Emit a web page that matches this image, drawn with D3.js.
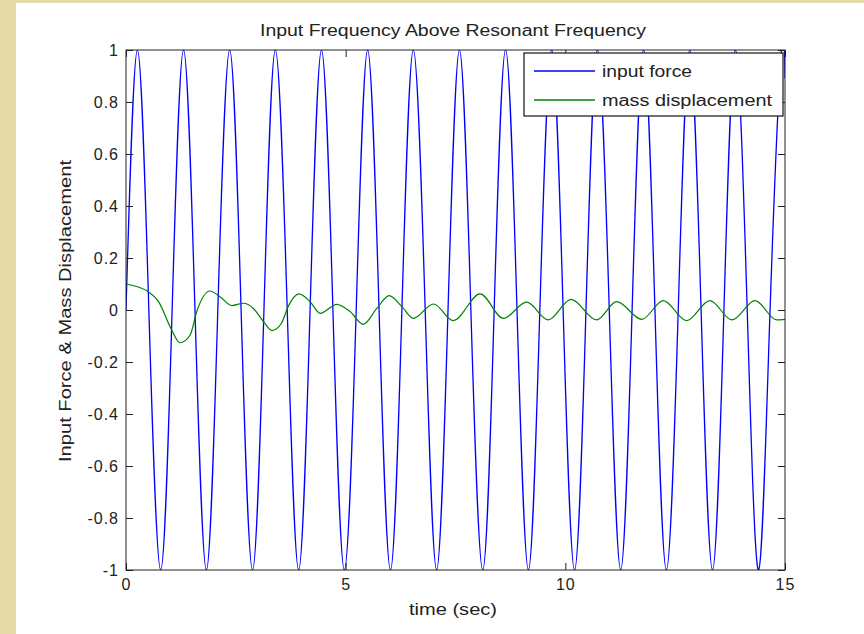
<!DOCTYPE html>
<html lang="en">
<head>
    <meta charset="UTF-8">
    <title>Input Frequency Above Resonant Frequency</title>
    <script src="https://cdn.jsdelivr.net/npm/d3@7"></script>
    <style>
        body { margin: 0; background: #e5dca9; }
        text { font-family: "Liberation Sans", Arial, sans-serif; fill: #222; }
    </style>
</head>
<body>
<script>
    // input force: peaks / zero crossings / troughs
    const forceTime = [0, 0.26, 0.52, 0.79, 1.05, 1.31, 1.57, 1.83, 2.09, 2.36, 2.62, 2.88, 3.14, 3.40, 3.67, 3.93,
        4.19, 4.45, 4.71, 4.97, 5.24, 5.50, 5.76, 6.02, 6.28, 6.54, 6.81, 7.07, 7.33, 7.59, 7.85, 8.12,
        8.38, 8.64, 8.90, 9.16, 9.42, 9.69, 9.95, 10.21, 10.47, 10.73, 11.00, 11.26, 11.52, 11.78, 12.04, 12.30,
        12.57, 12.83, 13.09, 13.35, 13.61, 13.87, 14.14, 14.40, 14.66, 14.92, 15]
    const forceValue = [0, 1, 0, -1, 0, 1, 0, -1, 0, 1, 0, -1, 0, 1, 0, -1,
        0, 1, 0, -1, 0, 1, 0, -1, 0, 1, 0, -1, 0, 1, 0, -1,
        0, 1, 0, -1, 0, 1, 0, -1, 0, 1, 0, -1, 0, 1, 0, -1,
        0, 1, 0, -1, 0, 1, 0, -1, 0, 1, 0.89]

    // mass displacement
    const dispTime = [0, 0.51, 0.74, 1.04, 1.23, 1.46, 1.61, 1.91, 2.14, 2.41, 2.67, 2.90, 3.13, 3.32, 3.54, 3.69,
        3.94, 4.19, 4.42, 4.80, 5.10, 5.40, 5.71, 5.99, 6.28, 6.54, 7.00, 7.45, 8.06, 8.59, 9.12, 9.61,
        10.13, 10.71, 11.17, 11.74, 12.23, 12.76, 13.29, 13.79, 14.32, 14.81, 15]
    const dispValue = [0.10, 0.070, 0.032, -0.077, -0.126, -0.096, -0.006, 0.073, 0.051, 0.017, 0.026, 0.006, -0.045, -0.079, -0.051, 0.013,
        0.062, 0.032, -0.013, 0.022, -0.006, -0.055, 0.006, 0.055, 0.013, -0.032, 0.023, -0.041, 0.062, -0.032, 0.030, -0.038,
        0.041, -0.038, 0.032, -0.036, 0.036, -0.041, 0.036, -0.038, 0.036, -0.038, -0.036]

    const xTicks = [0, 5, 10, 15]
    const yTicks = [-1, -0.8, -0.6, -0.4, -0.2, 0, 0.2, 0.4, 0.6, 0.8, 1]
    const seriesNames = ['input force', 'mass displacement']
    const seriesColors = ['#0000ff', '#008000']

    const width = 864
    const height = 634
    const margin = { top: 50, right: 79, bottom: 64, left: 126 }

    const svg = d3.select('body').append('svg')
        .attr('width', width)
        .attr('height', height)

    // beige frame and white figure
    svg.append('rect').attr('width', width).attr('height', height).attr('fill', '#e5dca9')
    svg.append('rect').attr('x', 16).attr('y', 3).attr('width', width - 16).attr('height', height - 3).attr('fill', '#ffffff')

    const xScale = d3.scaleLinear().domain([0, 15]).range([margin.left, width - margin.right])
    const yScale = d3.scaleLinear().domain([-1, 1]).range([height - margin.bottom, margin.top])

    const fmt = (d) => String(+d.toFixed(1))

    svg.append('defs').append('clipPath').attr('id', 'plot-clip')
        .append('rect')
        .attr('x', xScale(0)).attr('y', yScale(1))
        .attr('width', xScale(15) - xScale(0)).attr('height', yScale(-1) - yScale(1))

    // lines
    const forceData = forceTime.map((t, i) => [t, forceValue[i]])
    const dispData = dispTime.map((t, i) => [t, dispValue[i]])

    const plot = svg.append('g').attr('clip-path', 'url(#plot-clip)')

    plot.append('path')
        .datum(forceData)
        .attr('fill', 'none')
        .attr('stroke', seriesColors[0])
        .attr('stroke-width', 1.3)
        .attr('d', d3.line().x((d) => xScale(d[0])).y((d) => yScale(d[1])).curve(d3.curveNatural))

    plot.append('path')
        .datum(dispData)
        .attr('fill', 'none')
        .attr('stroke', seriesColors[1])
        .attr('stroke-width', 1.2)
        .attr('d', d3.line().x((d) => xScale(d[0])).y((d) => yScale(d[1])).curve(d3.curveMonotoneX))

    // axes (matlab style ticks pointing inward on all sides)
    const tick = 7
    const axisStyle = (g) => {
        g.select('.domain').remove()
        g.selectAll('.tick line').attr('stroke', '#222')
        g.selectAll('.tick text').attr('font-size', 16).attr('letter-spacing', '1px').attr('fill', '#222')
    }

    svg.append('g')
        .attr('transform', `translate(0, ${yScale(-1)})`)
        .call(d3.axisBottom(xScale).tickValues(xTicks).tickFormat(fmt).tickSize(-tick).tickPadding(9))
        .call(axisStyle)

    svg.append('g')
        .attr('transform', `translate(0, ${yScale(1)})`)
        .call(d3.axisTop(xScale).tickValues(xTicks).tickFormat('').tickSize(-tick))
        .call(axisStyle)

    svg.append('g')
        .attr('transform', `translate(${xScale(0)}, 0)`)
        .call(d3.axisLeft(yScale).tickValues(yTicks).tickFormat(fmt).tickSize(-tick).tickPadding(7))
        .call(axisStyle)

    svg.append('g')
        .attr('transform', `translate(${xScale(15)}, 0)`)
        .call(d3.axisRight(yScale).tickValues(yTicks).tickFormat('').tickSize(-tick))
        .call(axisStyle)

    svg.append('rect')
        .attr('x', xScale(0)).attr('y', yScale(1))
        .attr('width', xScale(15) - xScale(0)).attr('height', yScale(-1) - yScale(1))
        .attr('fill', 'none')
        .attr('stroke', '#222')
        .attr('stroke-width', 1)

    // title and axis labels
    svg.append('text')
        .attr('x', 453).attr('y', 36)
        .attr('text-anchor', 'middle')
        .attr('font-size', 16)
        .attr('textLength', 386)
        .attr('lengthAdjust', 'spacingAndGlyphs')
        .text('Input Frequency Above Resonant Frequency')

    svg.append('text')
        .attr('x', 453).attr('y', 615)
        .attr('text-anchor', 'middle')
        .attr('font-size', 16)
        .attr('textLength', 88)
        .attr('lengthAdjust', 'spacingAndGlyphs')
        .text('time (sec)')

    svg.append('text')
        .attr('transform', 'translate(71, 311) rotate(-90)')
        .attr('text-anchor', 'middle')
        .attr('font-size', 16)
        .attr('textLength', 302)
        .attr('lengthAdjust', 'spacingAndGlyphs')
        .text('Input Force & Mass Displacement')

    // legend
    const legendX = 524
    const legendY = 53
    const legend = svg.append('g')
    legend.append('rect')
        .attr('x', legendX).attr('y', legendY)
        .attr('width', 259).attr('height', 63)
        .attr('fill', '#ffffff')
        .attr('stroke', '#111')
        .attr('stroke-width', 1.2)

    const legendLen = [90, 170]
    seriesNames.forEach((name, i) => {
        const ly = legendY + 18 + i * 29
        legend.append('line')
            .attr('x1', legendX + 10).attr('x2', legendX + 71)
            .attr('y1', ly).attr('y2', ly)
            .attr('stroke', seriesColors[i])
            .attr('stroke-width', 1.3)
        legend.append('text')
            .attr('x', legendX + 78).attr('y', ly + 6)
            .attr('font-size', 16)
            .attr('textLength', legendLen[i])
            .attr('lengthAdjust', 'spacingAndGlyphs')
            .text(name)
    })
</script>
</body>
</html>
